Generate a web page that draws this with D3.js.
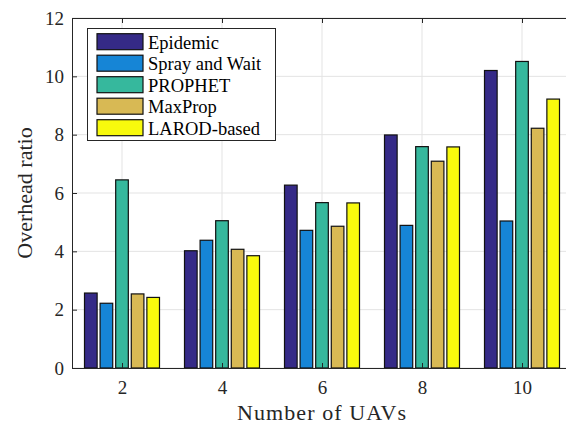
<!DOCTYPE html>
<html>
<head>
<meta charset="utf-8">
<script src="https://cdn.jsdelivr.net/npm/d3@7"></script>
<style>
  body { margin: 0; background: #fff; }
</style>
</head>
<body>
<div id="chart"></div>
<script>
// data
const uavs = [2, 4, 6, 8, 10];
const series = ["Epidemic", "Spray and Wait", "PROPHET", "MaxProp", "LAROD-based"];
const colors = ["#352a87", "#1685d6", "#36b89d", "#d8b954", "#f8fa0d"];
const epidemic = [2.57, 4.02, 6.27, 7.99, 10.2];
const sprayWait = [2.22, 4.38, 4.72, 4.89, 5.04];
const prophet = [6.45, 5.05, 5.67, 7.59, 10.51];
const maxProp = [2.54, 4.07, 4.86, 7.09, 8.22];
const larod = [2.42, 3.85, 5.66, 7.58, 9.22];
const yTicks = [0, 2, 4, 6, 8, 10, 12];

const values = [epidemic, sprayWait, prophet, maxProp, larod];
const serif = "'Liberation Serif', 'Times New Roman', serif";

(function overhead_chart() {
    const width = 566,
        height = 424,
        margin = ({ top: 18, right: -6, bottom: 56, left: 72 });

    const svg = d3.select("#chart")
        .append("svg")
        .attr("width", width)
        .attr("height", height);

    let x = d3.scaleLinear()
        .domain([1, 11])
        .range([margin.left, width - margin.right]);

    let y = d3.scaleLinear()
        .domain([0, 12])
        .range([height - margin.bottom, margin.top]);

    // offset of each bar inside a group
    let xs = d3.scaleBand()
        .domain(series)
        .range([-37.5, 37.5])
        .paddingInner(0.19);

    // grid
    svg.append("g")
        .selectAll("line")
        .data(yTicks)
        .join("line")
        .attr("x1", margin.left).attr("x2", width)
        .attr("y1", d => y(d)).attr("y2", d => y(d))
        .attr("stroke", "#e3e3e3");

    svg.append("g")
        .selectAll("line")
        .data(uavs)
        .join("line")
        .attr("x1", d => x(d)).attr("x2", d => x(d))
        .attr("y1", y(0)).attr("y2", y(12))
        .attr("stroke", "#e3e3e3");

    // bars
    series.forEach((s, i) => {
        svg.append("g")
            .selectAll("rect")
            .data(values[i])
            .join("rect")
            .attr("x", (d, j) => x(uavs[j]) + xs(s))
            .attr("y", d => y(d))
            .attr("width", xs.bandwidth())
            .attr("height", d => y(0) - y(d))
            .attr("fill", colors[i])
            .attr("stroke", "#111")
            .attr("stroke-width", 1.2);
    });

    // axes (matlab-style box, ticks inside)
    svg.append("g")
        .attr("transform", `translate(0,${y(0)})`)
        .call(d3.axisBottom(x)
            .tickValues(uavs)
            .tickSize(-5)
            .tickPadding(13)
            .tickSizeOuter(0))
        .call(g => g.select(".domain").attr("stroke", "#262626"))
        .call(g => g.selectAll(".tick line").attr("stroke", "#262626"))
        .call(g => g.selectAll("text").style("font-size", "19px").style("font-family", serif).attr("fill", "#262626"));

    svg.append("g")
        .attr("transform", `translate(0,${y(12)})`)
        .call(d3.axisTop(x)
            .tickValues(uavs)
            .tickSize(-5)
            .tickFormat("")
            .tickSizeOuter(0))
        .call(g => g.select(".domain").attr("stroke", "#262626"))
        .call(g => g.selectAll(".tick line").attr("stroke", "#262626"));

    svg.append("g")
        .attr("transform", `translate(${margin.left},0)`)
        .call(d3.axisLeft(y)
            .tickValues(yTicks)
            .tickSize(-5)
            .tickPadding(8)
            .tickSizeOuter(0))
        .call(g => g.select(".domain").attr("stroke", "#262626"))
        .call(g => g.selectAll(".tick line").attr("stroke", "#262626"))
        .call(g => g.selectAll("text").style("font-size", "19px").style("font-family", serif).attr("fill", "#262626"));

    // axis labels
    svg.append("text")
        .attr("x", 322)
        .attr("y", 420)
        .attr("text-anchor", "middle")
        .style("font-family", serif)
        .style("font-size", "22px")
        .style("letter-spacing", "1.1px")
        .attr("fill", "#262626")
        .text("Number of UAVs");

    svg.append("text")
        .attr("transform", `translate(32,${(y(0) + y(12)) / 2}) rotate(-90)`)
        .attr("text-anchor", "middle")
        .style("font-family", serif)
        .style("font-size", "22px")
        .attr("fill", "#262626")
        .text("Overhead ratio");

    // legend
    const lg = svg.append("g");
    lg.append("rect")
        .attr("x", 87.5).attr("y", 28.5)
        .attr("width", 188).attr("height", 112)
        .attr("fill", "#fff")
        .attr("stroke", "#262626");

    series.forEach((s, i) => {
        let cy = 41.7 + i * 21.5;
        lg.append("rect")
            .attr("x", 97).attr("y", cy - 8)
            .attr("width", 46).attr("height", 16)
            .attr("fill", colors[i])
            .attr("stroke", "#111")
            .attr("stroke-width", 1.2);
        lg.append("text")
            .attr("x", 148).attr("y", cy + 1)
            .attr("dominant-baseline", "central")
            .style("font-family", serif)
            .style("font-size", "18.5px")
            .attr("fill", "#000")
            .text(s);
    });
})();
</script>
</body>
</html>
